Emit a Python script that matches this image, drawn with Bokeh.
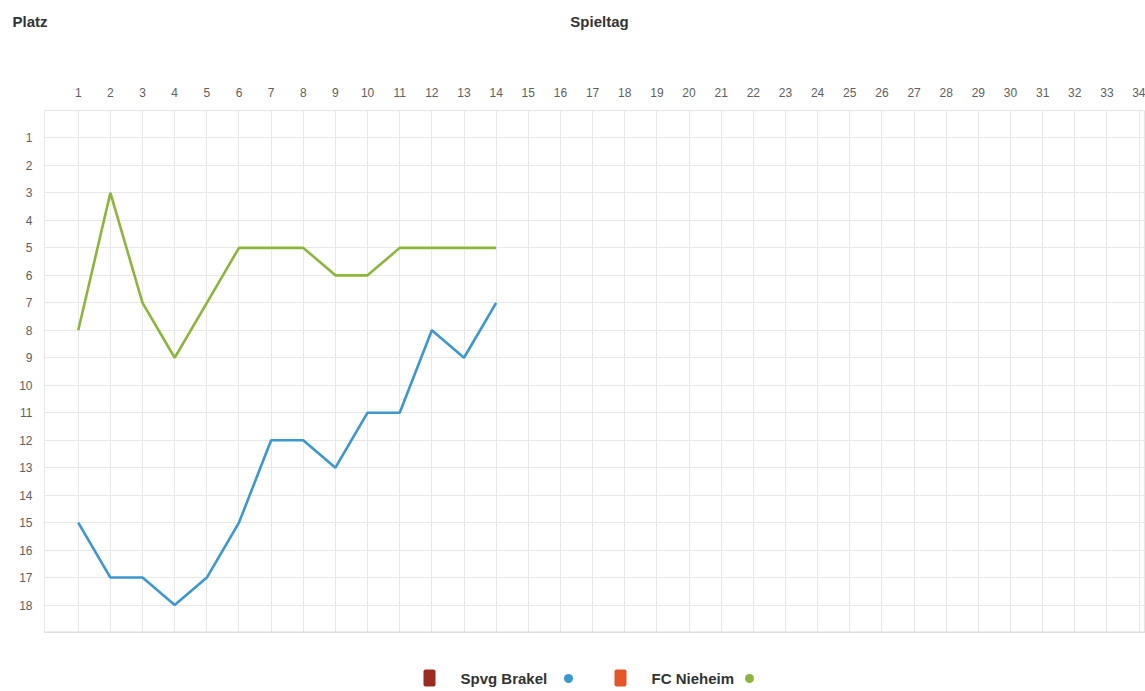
from bokeh.plotting import figure
from bokeh.layouts import column
from bokeh.models import Range1d, FixedTicker, Label, BoxAnnotation, Span
from bokeh.embed import file_html
from bokeh.resources import INLINE

# ---- data ----
spieltage = list(range(1, 15))
brakel = [15, 17, 17, 18, 17, 15, 12, 12, 13, 11, 11, 8, 9, 7]
nieheim = [8, 3, 7, 9, 7, 5, 5, 5, 6, 6, 5, 5, 5, 5]
x_ticks = list(range(1, 35))
y_ticks = list(range(1, 19))
team_names = ["Spvg Brakel", "FC Nieheim"]
team_colors = ["#3d97cf", "#8db53c"]
crest_colors = ["#9a2c22", "#e4562a"]

FONT = "Liberation Sans"
W = 1145
LEFT = 44
H_HEAD, H_MAIN, H_FOOT = 42, 600, 49


def blank(height):
    # frames of a column are aligned: frame spans page x LEFT..W, so data x == page pixel
    f = figure(width=W, height=height, output_backend="svg", toolbar_location=None,
               x_range=Range1d(LEFT, W), y_range=Range1d(height, 0),
               min_border_left=LEFT, min_border_right=0, min_border_top=0,
               min_border_bottom=0, outline_line_color=None)
    f.xaxis.visible = False
    f.grid.visible = False
    return f


# ---- header ----
head = blank(H_HEAD)
ya = head.yaxis[0]
ya.ticker = FixedTicker(ticks=[])
ya.axis_line_color = None
ya.major_tick_line_color = None
ya.minor_tick_line_color = None
ya.major_tick_out = 0
ya.axis_label = "Platz"
ya.axis_label_orientation = "horizontal"
ya.axis_label_standoff = -3
ya.axis_label_text_font = FONT
ya.axis_label_text_font_size = "15px"
ya.axis_label_text_font_style = "bold"
ya.axis_label_text_color = "#333333"
head.add_layout(Label(x=599, y=21, text="Spieltag", text_font=FONT, text_font_size="15px",
                      text_font_style="bold", text_color="#333333", text_baseline="middle",
                      text_align="center"))

# ---- main chart ----
p = figure(width=W, height=H_MAIN, output_backend="svg", toolbar_location=None,
           x_range=Range1d(-0.05, 34.2), y_range=Range1d(19, 0),
           x_axis_location="above",
           min_border_left=LEFT, min_border_right=0, min_border_top=68, min_border_bottom=10)

p.outline_line_color = "#e6e6e6"
p.outline_line_width = 1

for ax in (p.xaxis[0], p.yaxis[0]):
    ax.axis_line_color = None
    ax.major_tick_line_color = None
    ax.minor_tick_line_color = None
    ax.major_tick_out = 0
    ax.major_tick_in = 0
    ax.major_label_text_font = FONT
    ax.major_label_text_font_size = "12px"
    ax.major_label_text_color = "#606060"
p.xaxis[0].ticker = FixedTicker(ticks=x_ticks)
p.yaxis[0].ticker = FixedTicker(ticks=y_ticks)
p.xaxis[0].major_label_standoff = 14
p.yaxis[0].major_label_standoff = 12

p.xgrid.ticker = FixedTicker(ticks=x_ticks)
p.ygrid.ticker = FixedTicker(ticks=y_ticks)
p.grid.grid_line_color = "#e8e8e8"
p.grid.grid_line_width = 1

p.add_layout(Span(location=19, dimension="width", line_color="#dadada", line_width=2))

p.line(spieltage, brakel, line_color=team_colors[0], line_width=2.6)
p.line(spieltage, nieheim, line_color=team_colors[1], line_width=2.6)

# ---- footer legend ----
foot = blank(H_FOOT)
foot.yaxis.visible = False
crest_x = [429, 620]
text_x = [460, 651]
dot_x = [568, 749]
LEG_Y = 36
for i in range(2):
    foot.add_layout(BoxAnnotation(left=crest_x[i] - 6, right=crest_x[i] + 6,
                                  top=LEG_Y - 9, bottom=LEG_Y + 8, fill_color=crest_colors[i],
                                  fill_alpha=1, line_color=None, border_radius=2))
    foot.add_layout(Label(x=text_x[i], y=LEG_Y, text=team_names[i], text_font=FONT,
                          text_font_size="15px", text_font_style="bold", text_color="#333333",
                          text_baseline="middle"))
foot.scatter(dot_x, [LEG_Y] * 2, size=9, color=team_colors, line_color=None)

layout = column(head, p, foot, spacing=0)
open("out.html", "w").write(file_html(layout, INLINE))
